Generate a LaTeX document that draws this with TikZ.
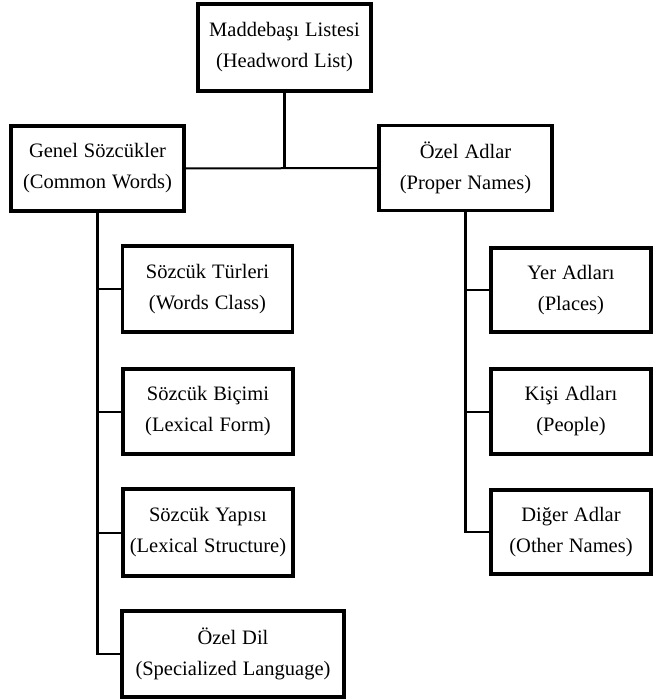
\documentclass[tikz,border=0pt]{standalone}
\usepackage{fontspec}
\setmainfont{Liberation Serif}
\newcommand{\mybxfont}{\fontsize{20.5}{31}\selectfont\spaceskip=6pt plus 1pt\relax}
\tikzset{
  box/.style={draw=black, line width=3.5pt, fill=white, align=center, inner sep=0pt,
    font=\mybxfont},
  conn/.style={draw=black, line width=2.4pt},
  hconn/.style={draw=black, line width=2pt},
}
\begin{document}
\begin{tikzpicture}[x=1pt,y=-1pt]
\useasboundingbox (0,0) rectangle (655,700);
\node[box, minimum width=173pt, minimum height=87pt] (top) at (284.5,47.5) {Maddebaşı Listesi\\(Headword List)};
\node[box, minimum width=173pt, minimum height=85pt] (L) at (97.5,168.5) {Genel Sözcükler\\(Common Words)};
\node[box, minimum width=173pt, minimum height=85pt] (R) at (465.5,168) {Özel Adlar\\(Proper Names)};
\node[box, minimum width=170pt, minimum height=86pt] (L1) at (207.5,289) {Sözcük Türleri\\(Words Class)};
\node[box, minimum width=170pt, minimum height=85pt] (L2) at (208,411.5) {Sözcük Biçimi\\(Lexical Form)};
\node[box, minimum width=170pt, minimum height=87pt] (L3) at (208,532.5) {Sözcük Yapısı\\(Lexical Structure)};
\node[box, minimum width=222pt, minimum height=86pt] (L4) at (233,654) {Özel Dil\\(Specialized Language)};
\node[box, minimum width=160pt, minimum height=84pt] (R1) at (571,290) {Yer Adları\\(Places)};
\node[box, minimum width=160pt, minimum height=85pt] (R2) at (571,411.5) {Kişi Adları\\(People)};
\node[box, minimum width=160pt, minimum height=84pt] (R3) at (571,532) {Diğer Adlar\\(Other Names)};
\draw[hconn] (L.east) -- (R.west);
\draw[conn] (top.south) -- (top.south |- L.east);
\draw[conn] (L.south) -- (L.south |- L4.west) -- (L4.west);
\draw[hconn] (L.south |- L1.west) -- (L1.west);
\draw[hconn] (L.south |- L2.west) -- (L2.west);
\draw[hconn] (L.south |- L3.west) -- (L3.west);
\draw[conn] (R.south) -- (R.south |- R3.west) -- (R3.west);
\draw[hconn] (R.south |- R1.west) -- (R1.west);
\draw[hconn] (R.south |- R2.west) -- (R2.west);
\end{tikzpicture}
\end{document}
